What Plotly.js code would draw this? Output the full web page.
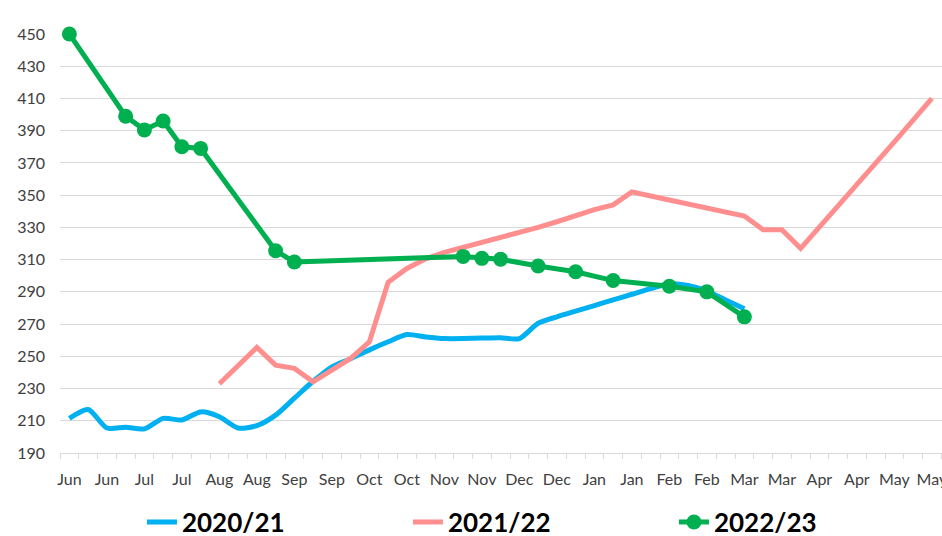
<!DOCTYPE html>
<html>
<head>
<meta charset="utf-8">
<script src="https://cdn.plot.ly/plotly-3.0.1.min.js"></script>
<style>html,body{margin:0;padding:0;background:#fff;}#chart{width:942px;height:536px;}</style>
</head>
<body>
<div id="chart"></div>
<script>
// weekly positions (index of week from start of June)
const weeks = [0,1,2,3,4,5,6,7,8,9,10,11,12,13,14,15,16,17,18,19,20,21,22,23,24,25,26,27,28,29,30,31,32,33,34,35,36,37,38,39,40,41,42,43,44,45,46];
const tickPositions = [0,2,4,6,8,10,12,14,16,18,20,22,24,26,28,30,32,34,36,38,40,42,44,46];
const tickLabels = ["Jun","Jun","Jul","Jul","Aug","Aug","Sep","Sep","Oct","Oct","Nov","Nov","Dec","Dec","Jan","Jan","Feb","Feb","Mar","Mar","Apr","Apr","May","May"];

const s2020 = [211.5,217,205.5,206,205,211.5,210.5,215.5,212.5,205.5,207,213.5,224,234.5,243.5,248.5,254,259,263.5,262,261,261,261.3,261.5,261,270.5,274.5,278,281.5,285,288.5,292,295,294,290.5,285,279.5,
  null,null,null,null,null,null,null,null,null,null];
const s2021 = [null,null,null,null,null,null,null,null,233,244.5,255.5,244.5,242.5,234.2,241.5,248.7,259,296,304.5,310.5,314.5,317.5,320.5,323.5,327,330,333.5,337.5,341,344,352,349.5,347,344.5,342,339.5,337,328.5,328.5,317,330,343,356,369.5,383,396.5,410];
const s2022 = [450,null,null,399,390.5,396,380,379,null,null,null,315.5,308.5,null,null,null,null,null,null,null,null,312,310.8,310.2,null,306,null,302.5,null,297,null,null,293.5,null,290,null,274.5,
  null,null,null,null,null,null,null,null,null,null];

const seriesNames = ["2020/21","2021/22","2022/23"];

const traces = [
  {x: weeks, y: s2020, name: seriesNames[0], type: 'scatter', mode: 'lines',
   line: {color: '#00B0F0', width: 5, shape: 'spline', smoothing: 0.7}, cliponaxis: false},
  {x: weeks, y: s2021, name: seriesNames[1], type: 'scatter', mode: 'lines',
   line: {color: '#FF8F8F', width: 5}, cliponaxis: false},
  {x: weeks, y: s2022, name: seriesNames[2], type: 'scatter', mode: 'lines+markers', connectgaps: true,
   line: {color: '#00B050', width: 5}, marker: {color: '#00B050', size: 15}, cliponaxis: false}
];

const layout = {
  width: 942, height: 536,
  margin: {l: 60, r: 0, t: 34, b: 83, autoexpand: false},
  paper_bgcolor: '#ffffff', plot_bgcolor: '#ffffff',
  font: {family: 'Lato, "Open Sans", sans-serif', size: 16, color: '#404040'},
  showlegend: true,
  legend: {orientation: 'h', xref: 'container', yref: 'container', x: 0.1507, xanchor: 'left', y: 0.026, yanchor: 'middle',
           font: {family: 'Lato, sans-serif', size: 26, color: '#000000', weight: 'bold'},
           entrywidth: 221, traceorder: 'normal', bgcolor: 'rgba(0,0,0,0)'},
  xaxis: {range: [-0.5, 46.54], tickmode: 'array', tickvals: tickPositions, ticktext: tickLabels, automargin: false,
          ticks: '', showgrid: false, zeroline: false, showline: true, linecolor: '#d9d9d9', linewidth: 1,
          ticklabelstandoff: 12, tickangle: 0, ticklabeloverflow: 'allow',
          tickfont: {family: 'Lato, sans-serif', size: 16, color: '#404040'},
          minor: {ticks: 'outside', ticklen: 5, tickcolor: '#d9d9d9', tickwidth: 1, tick0: -0.5, dtick: 1, showgrid: false}},
  yaxis: {range: [190, 450], tickmode: 'linear', tick0: 190, dtick: 20, showgrid: true, gridcolor: '#d9d9d9', gridwidth: 1,
          zeroline: false, showline: false, ticks: '', ticklabelstandoff: 14, automargin: false,
          tickfont: {family: 'Lato, sans-serif', size: 16, color: '#404040'}}
};

Plotly.newPlot('chart', traces, layout, {staticPlot: true, displayModeBar: false});
</script>
</body>
</html>
